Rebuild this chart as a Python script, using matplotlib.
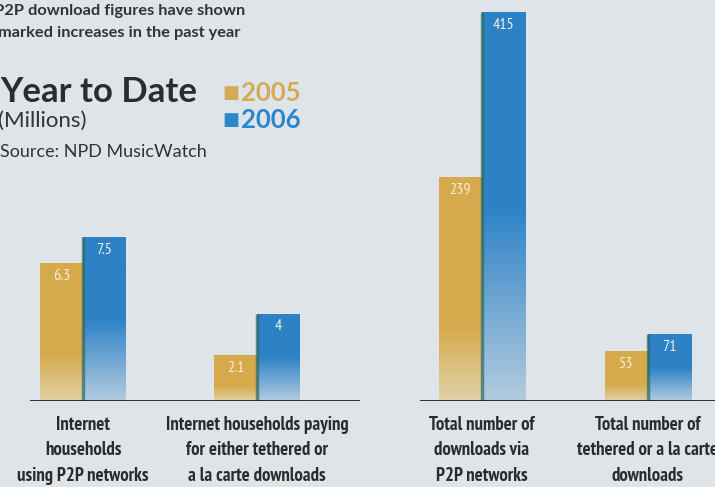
import numpy as np
import matplotlib
matplotlib.use("Agg")
import matplotlib.pyplot as plt
from matplotlib.colors import LinearSegmentedColormap

# --- data ---
hh_labels = ["Internet\nhouseholds\nusing P2P networks",
             "Internet households paying\nfor either tethered or\na la carte downloads"]
hh_2005 = [6.3, 2.1]
hh_2006 = [7.5, 4]

dl_labels = ["Total number of\ndownloads via\nP2P networks",
             "Total number of\ntethered or a la carte\ndownloads"]
dl_2005 = [239, 53]
dl_2006 = [415, 71]

years = ["2005", "2006"]

BG = "#dfe4e9"
GOLD = "#d6aa4c"
GOLD_LIGHT = "#e0d2a6"
BLUE = "#2d82c6"
BLUE_LIGHT = "#b3cbe0"
INK = "#2b2b2b"
NARROW = ["PT Sans Narrow", "Roboto Condensed", "Liberation Sans Narrow", "DejaVu Sans"]
GEO = ["Lato", "DejaVu Sans"]

gold_cmap = LinearSegmentedColormap.from_list("g", [GOLD_LIGHT, GOLD, GOLD, GOLD])
blue_cmap = LinearSegmentedColormap.from_list("b", [BLUE_LIGHT, BLUE, BLUE])


def gradient_bars(ax, x, heights, width, cmap):
    bars = ax.bar(x, heights, width, color="none", edgecolor="none")
    grad = np.linspace(0, 1, 256).reshape(-1, 1)
    for b in bars:
        x0, y0 = b.get_x(), b.get_y()
        im = ax.imshow(grad, extent=[x0, x0 + b.get_width(), y0, y0 + b.get_height()],
                       origin="lower", aspect="auto", cmap=cmap, zorder=2)
        im.set_clip_path(b)
    return bars


def draw_panel(ax, labels, v05, v06, width, xlim, ylim):
    x = np.arange(len(labels))
    b05 = gradient_bars(ax, x - width / 2, v05, width, gold_cmap)
    b06 = gradient_bars(ax, x + width / 2, v06, width, blue_cmap)
    # dark seam where the blue bar sits against the gold one
    for b in b06:
        ax.plot([b.get_x(), b.get_x()], [0, b.get_height()], color="#2f6a5e",
                lw=2.5, alpha=0.7, zorder=3, solid_capstyle="butt")
    for bars, vals in ((b05, v05), (b06, v06)):
        for b, v in zip(bars, vals):
            ax.annotate(f"{v:g}", (b.get_x() + b.get_width() / 2, b.get_height()),
                        xytext=(0, -4), textcoords="offset points", ha="center", va="top",
                        color="#f4efe0", fontsize=11.5, family=NARROW, zorder=4)
    ax.set_xlim(*xlim)
    ax.set_ylim(*ylim)
    ax.axhline(0, color="#1e1e1e", lw=2, zorder=5)
    ax.set_xticks(x)
    ax.set_xticklabels(labels, family=NARROW, fontweight="bold", fontsize=13.5,
                       color=INK, linespacing=1.55, va="top")
    ax.tick_params(axis="x", length=0, pad=10.5)
    ax.set_yticks([])
    for s in ax.spines.values():
        s.set_visible(False)
    ax.patch.set_alpha(0)


fig = plt.figure(figsize=(7.15, 4.87), dpi=100, facecolor=BG)

W, H = 715, 487
base = (H - 401) / H

ax1 = fig.add_axes([30 / W, base, 330 / W, 220 / H])
draw_panel(ax1, hh_labels, hh_2005, hh_2006, 0.245, (-0.305, 1.592), (0, 10.06))

ax2 = fig.add_axes([420 / W, base, 295 / W, 395 / H])
draw_panel(ax2, dl_labels, dl_2005, dl_2006, 0.26, (-0.373, 1.404), (0, 421.4))

# --- header text ---
fig.text(-0.008, 1 - 11 / H, "P2P download figures have shown", fontsize=11.8,
         family=GEO, fontweight="bold", color="#333333", va="center", ha="left")
fig.text(-0.003, 1 - 33 / H, "marked increases in the past year", fontsize=11.8,
         family=GEO, fontweight="bold", color="#333333", va="center", ha="left")
fig.text(0.0, 1 - 102 / H, "Year to Date", fontsize=25, fontweight="bold", family=GEO,
         color="#2a2d30", va="baseline", ha="left")
fig.text(-0.003, 1 - 127 / H, "(Millions)", fontsize=16, family=GEO, color="#333333",
         va="baseline", ha="left")
fig.text(0.0, 1 - 157 / H, "Source: NPD MusicWatch", fontsize=13, family=GEO,
         color="#333333", va="baseline", ha="left")

# legend
for i, (yr, col) in enumerate(zip(years, ["#d4aa55", "#2c86cc"])):
    y = 1 - (93 + i * 27) / H
    fig.text(222 / W, y, "\u25A0", fontsize=13, color=col, va="center", ha="left",
             family="DejaVu Sans")
    fig.text(241 / W, y, yr, fontsize=18.5, fontweight="bold", color=col, family=GEO,
             va="center", ha="left")

fig.savefig("out.png", dpi=100, facecolor=BG)
